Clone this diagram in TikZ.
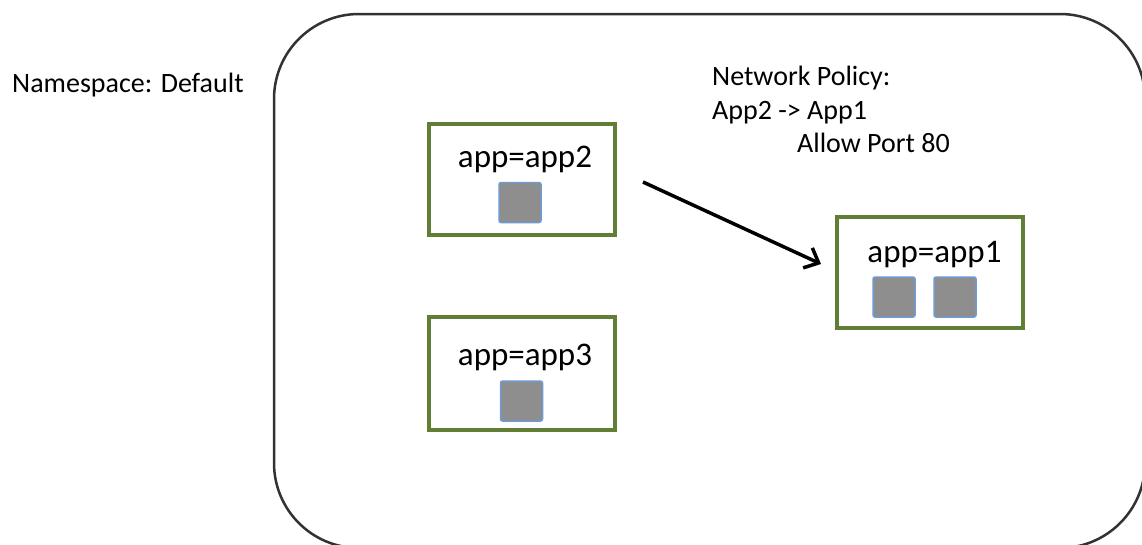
\documentclass[tikz,border=0pt]{standalone}
\usepackage{fontspec}
\setmainfont{Carlito}
\usetikzlibrary{arrows.meta}
\definecolor{labelgreen}{RGB}{96,127,52}
\definecolor{podfill}{RGB}{142,142,142}
\definecolor{podedge}{RGB}{110,155,210}
\definecolor{nsedge}{RGB}{50,50,50}
\tikzset{
  appbox/.style={draw=labelgreen, line width=4pt, minimum width=186pt,
    minimum height=111pt, inner sep=0pt, fill=white},
  applabel/.style={anchor=base, inner sep=0pt, font=\fontsize{33}{36}\selectfont},
  pod/.style={draw=podedge, fill=podfill, line width=1.5pt, rounded corners=2pt,
    minimum width=42pt, minimum height=40pt, inner sep=0pt},
  note/.style={anchor=base west, inner sep=0pt, font=\fontsize{28}{32}\selectfont},
  policy/.style={line width=3.5pt, -{Straight Barb[length=12pt, width=22pt]}}
}
\begin{document}
\begin{tikzpicture}[x=1pt, y=-1pt]
\useasboundingbox (0,0) rectangle (1142,544);
\fill[white] (0,0) rectangle (1142,544);

% namespace outline
\draw[nsedge, line width=2.5pt, rounded corners=85pt] (274,14) rectangle (1145,548);

\node[note] (ns) at (12,92) {Namespace: Default};

% policy description
\node[note] (pol1) at (712,85) {Network Policy:};
\node[note] (pol2) at (712,119) {App2 -> App1};
\node[note] (pol3) at (797,152) {Allow Port 80};

% labelled groups of pods
\node[appbox] (app2) at (522,179.5) {};
\node[applabel] (app2lbl) at (525,167) {app=app2};
\node[pod] (pod2) at (520,202.5) {};

\node[appbox, minimum height=113pt] (app3) at (522,373.5) {};
\node[applabel] (app3lbl) at (525,365) {app=app3};
\node[pod] (pod3) at (521.5,401) {};

\node[appbox] (app1) at (930,272.5) {};
\node[applabel] (app1lbl) at (934.5,262) {app=app1};
\node[pod] (pod1a) at (894,297) {};
\node[pod] (pod1b) at (955,297) {};

% allowed traffic
\coordinate (from) at (643,182);
\coordinate (to) at (821,264);
\draw[policy] (from) -- (to);
\end{tikzpicture}
\end{document}
